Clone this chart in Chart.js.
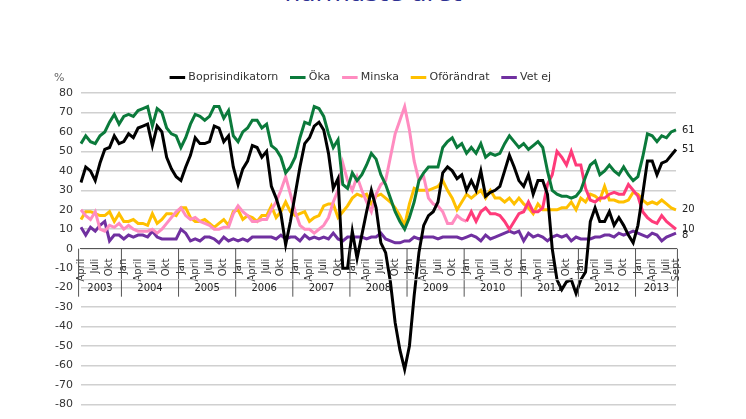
<!DOCTYPE html>
<html><head><meta charset="utf-8">
<script src="https://cdn.jsdelivr.net/npm/chart.js@4/dist/chart.umd.min.js"></script>
<style>
html,body{margin:0;padding:0;background:#fff;overflow:hidden}
#t{position:absolute;left:0;width:746px;top:-22px;text-align:center;font-family:"DejaVu Sans",Verdana,sans-serif;font-size:25px;color:#2E3192}
#w{position:absolute;left:0;top:0;width:746px;height:419px}
</style></head><body>
<div id="t">närmaste året</div>
<div id="w"><canvas id="c"></canvas></div>
<script>
const monthNames=['Jan','','','April','','','Juli','','','Okt','',''];
const years=['2003','2004','2005','2006','2007','2008','2009','2010','2011','2012','2013'];
const categories=[];
for(let i=0;i<126;i++){const m=(3+i)%12;categories.push(i===125?'Sept':monthNames[m]);}
const bopris=[34,42,40,35,44,51,52,58,54,55,59,57,62,63,64,53,63,60,47,41,37,35,42,48,57,54,54,55,63,62,55,58,42,33,41,45,53,52,47,50,32,26,18,2,
14,28,42,54,57,63,65,61,49,31,36,-10,-10,9,-5,7,19,30,21,3,-2,-17,-38,-52,-62,-50,-24,-2,12,17,19,24,39,42,40,36,38,30,35,
30,40,27,29,30,32,40,48,42,35,32,38,28,35,35,28,0,-16,-21,-17,-16,-23,-16,-12,14,21,14,14,19,12,16,12,7,3,12,28,45,45,38,44,45,48,51];
const oka=[54,58,55,54,58,60,65,69,64,68,69,68,71,72,73,63,72,70,62,59,58,52,57,64,69,68,66,68,73,73,67,71,58,55,60,62,66,66,62,64,53,51,
47,39,42,47,57,65,64,73,72,68,59,52,56,33,31,39,35,38,43,49,46,38,33,26,19,14,10,16,24,35,39,42,42,42,52,55,57,52,54,49,52,
49,54,47,49,48,49,54,58,55,52,54,51,53,55,52,40,30,28,27,27,26,27,30,37,43,45,38,40,43,40,38,42,38,35,37,47,59,58,55,58,57,60,61];
const minska=[20,17,15,19,10,9,12,11,13,10,12,10,9,9,9,10,8,10,13,16,19,21,17,15,16,14,13,12,10,10,11,11,18,22,19,17,14,14,15,15,20,24,
30,37,28,19,12,10,10,8,10,12,16,24,30,44,35,30,37,30,24,19,28,33,35,47,59,66,73,61,45,35,37,26,23,22,19,13,13,17,15,14,19,
14,19,21,18,18,17,14,10,14,18,19,24,19,19,21,33,38,50,47,43,50,43,43,31,25,24,26,26,28,29,28,28,33,30,27,19,16,14,13,17,14,12,10];
const oforandrat=[15,19,19,18,17,17,19,14,18,14,14,15,13,13,12,18,13,15,18,18,17,21,21,16,14,14,15,13,11,13,15,12,19,20,15,17,16,14,17,17,22,16,
19,24,19,17,18,19,14,16,17,22,23,23,16,19,22,26,28,27,28,23,27,28,26,24,21,17,12,23,31,30,30,30,31,32,35,30,26,20,24,28,26,
28,30,26,30,26,26,24,26,23,26,23,21,18,23,20,20,20,20,21,21,24,20,26,24,28,27,25,32,25,25,24,24,25,29,28,25,23,24,23,25,23,21,20];
const vetej=[11,7,11,9,12,14,4,7,7,5,7,6,7,7,6,9,6,5,5,5,5,10,8,4,5,4,6,6,5,3,6,4,5,4,5,4,6,6,6,6,6,5,
7,5,6,6,4,7,5,6,5,6,5,8,5,4,6,6,6,6,5,6,6,8,5,4,3,3,4,4,6,5,6,6,6,5,6,6,6,6,5,6,7,
6,4,7,5,6,7,8,9,8,9,4,8,6,7,6,4,6,7,6,7,4,6,5,5,5,6,6,7,7,6,8,7,8,9,8,7,6,8,7,4,6,7,8];
const yTicks=[80,70,60,50,40,30,20,10,0,-10,-20,-30,-40,-50,-60,-70,-80];
const endLabels=[['61',61],['51',51],['20',20],['10',10],['8',7]];
const FONT='"DejaVu Sans", Verdana, sans-serif';

const extras={id:'extras',afterDraw(ch){
  const c=ch.ctx,x=ch.scales.x,y=ch.scales.y;
  c.save();
  c.font='11px '+FONT;c.fillStyle='#666';c.textAlign='left';c.textBaseline='middle';
  c.fillText('%',x.left-27,78);
  c.fillStyle='#222';c.font='10px '+FONT;
  endLabels.forEach(([t,v])=>c.fillText(t,x.right+6,y.getPixelForValue(v)));
  const y0=y.getPixelForValue(0);
  c.strokeStyle='#555';c.lineWidth=1;
  const half=(x.getPixelForValue(1)-x.getPixelForValue(0))/2;
  const bounds=[-0.5];
  for(let i=0;i<126;i++){if((3+i)%12===0)bounds.push(i-0.5);}
  bounds.push(125.3);
  bounds.forEach(b=>{const px=x.getPixelForValue(0)+(b)*half*2;
    c.beginPath();c.moveTo(px,y0);c.lineTo(px,y0+48);c.stroke();});
  c.font='10px '+FONT;c.fillStyle='#222';c.textAlign='center';
  for(let k=0;k<years.length;k++){
    const a=x.getPixelForValue(0)+bounds[k]*half*2,b=x.getPixelForValue(0)+bounds[k+1]*half*2;
    c.fillText(years[k],(a+b)/2,y0+40);
  }
  c.strokeStyle='#ccc';c.beginPath();c.moveTo(x.left,y0+31);c.lineTo(x.right,y0+31);c.stroke();
  c.restore();
}};

const ds=(label,data,color,extra)=>Object.assign({label,data,borderColor:color,backgroundColor:color,borderWidth:3,pointRadius:0,tension:0,fill:false},extra||{});
new Chart(document.getElementById('c'),{
  type:'line',
  data:{labels:categories,datasets:[
    ds('Boprisindikatorn',bopris,'#000000'),
    ds('Öka',oka,'#0B7A3B'),
    ds('Minska',minska,'#FF8CC0',{segment:{borderColor:c=>c.p0DataIndex>=81?'#FF3B7A':'#FF8CC0'}}),
    ds('Oförändrat',oforandrat,'#FFC000'),
    ds('Vet ej',vetej,'#7030A0')
  ]},
  plugins:[extras],
  options:{responsive:true,maintainAspectRatio:false,animation:false,
    layout:{padding:{left:47,right:70,top:58,bottom:8}},
    plugins:{legend:{display:true,position:'top',labels:{usePointStyle:true,pointStyle:'line',boxWidth:30,padding:14,color:'#333',font:{family:FONT,size:11}}},tooltip:{enabled:false}},
    scales:{
      y:{min:-80,max:80,afterBuildTicks:a=>{a.ticks=yTicks.map(v=>({value:v}));},
        grid:{color:'#d0d0d0',drawTicks:false,lineWidth:1.5},border:{display:false},
        ticks:{color:'#333',padding:8,font:{family:FONT,size:11}}},
      x:{position:{y:0},offset:false,grid:{display:false},border:{color:'#555'},
        ticks:{autoSkip:false,maxRotation:90,minRotation:90,color:'#333',font:{family:FONT,size:10},padding:2}}
    }}
});
</script></body></html>
